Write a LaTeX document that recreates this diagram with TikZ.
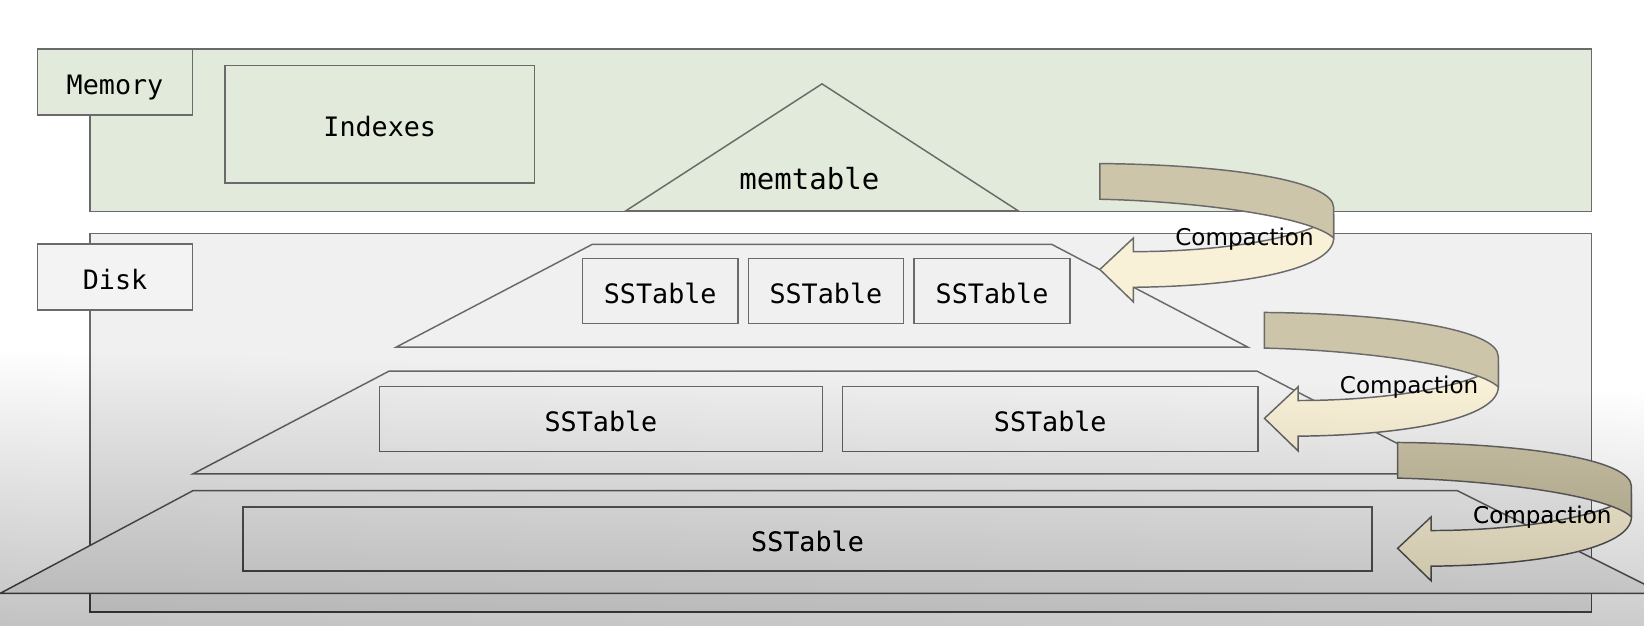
\documentclass[tikz,border=0pt]{standalone}
\usepackage{fontspec}
\setmonofont{DejaVu Sans Mono}
\newfontfamily\handfont{DejaVu Sans}
\definecolor{linec}{HTML}{6A6A6A}
\definecolor{memfill}{HTML}{E2EADB}
\definecolor{diskfill}{HTML}{F0F0F0}
\definecolor{labfill}{HTML}{F3F3F3}
\definecolor{darkband}{HTML}{CDC5AA}
\definecolor{lightband}{HTML}{F8F1D8}
\tikzset{
  outl/.style={draw=linec, line width=1.4pt, line join=miter},
  box/.style={outl, anchor=north west, inner sep=0pt,
    font=\ttfamily\fontsize{25.5}{30}\selectfont, text height=23.5pt, text depth=0pt},
  handtext/.style={anchor=base, inner sep=0pt, font=\handfont\fontsize{22}{26}\selectfont},
  compaction/.pic={
    \filldraw[outl, fill=lightband]
      (223,50) -- (223,71) .. controls (223,100) and (140,117) .. (32,118)
      -- (32,132) -- (0,101) -- (32,71) -- (32,84)
      .. controls (120,84) and (200,70) .. (223,50) -- cycle;
    \filldraw[outl, fill=darkband]
      (0,0) .. controls (121,1) and (223,16) .. (223,42) -- (223,71)
      .. controls (200,50) and (90,36) .. (0,34) -- cycle;
    \node[handtext] (-label) at (138,77.7) {Compaction};
  }
}
\begin{document}
\begin{tikzpicture}[x=1pt, y=-1pt]
\useasboundingbox (0,0) rectangle (1568,597);
\clip (0,0) rectangle (1568,597);
\fill[white] (0,0) rectangle (1568,597);

% Memory
\node[box, fill=memfill, minimum width=1432pt, minimum height=155pt] (mem) at (85,46) {};
\node[box, fill=memfill, minimum width=148pt, minimum height=63pt] (memlabel) at (35,46) {Memory};
\node[box, minimum width=295pt, minimum height=112pt] (indexes) at (214,62) {Indexes};
\draw[outl] (597,201) -- (784,80) -- (971,201) -- cycle;
\node[anchor=base, inner sep=0pt, font=\ttfamily\fontsize{27.7}{32}\selectfont] (memtable) at (772,181) {memtable};

% Disk
\node[box, fill=diskfill, minimum width=1432pt, minimum height=361pt] (disk) at (85,222) {};
\node[box, fill=labfill, minimum width=148pt, minimum height=63pt] (disklabel) at (35,232) {Disk};

\filldraw[outl, fill=diskfill] (565,233) -- (1003,233) -- (1190,331) -- (378,331) -- cycle;
\filldraw[outl, fill=diskfill] (371,354) -- (1199,354) -- (1389,452) -- (184,452) -- cycle;
\filldraw[outl, fill=diskfill] (184,468) -- (1390,468) -- (1586,566) -- (0,566) -- cycle;

\node[box, minimum width=148pt, minimum height=62pt] (ss1a) at (555,246) {SSTable};
\node[box, minimum width=148pt, minimum height=62pt] (ss1b) at (713,246) {SSTable};
\node[box, minimum width=149pt, minimum height=62pt] (ss1c) at (871,246) {SSTable};
\node[box, minimum width=423pt, minimum height=62pt] (ss2a) at (361,368) {SSTable};
\node[box, minimum width=396pt, minimum height=62pt] (ss2b) at (803,368) {SSTable};
\node[box, minimum width=1077pt, minimum height=61pt] (ss3) at (231,483) {SSTable};

% Compaction arrows
\pic (compA) at (1049,156) {compaction};
\pic (compB) at (1206,298) {compaction};
\pic (compC) at (1333,422) {compaction};

% darkening towards the bottom left (stacked translucent layers)
\foreach \k in {1,...,60}{
  \pgfmathsetmacro\tprev{1-0.26*(\k-1)/60}
  \pgfmathsetmacro\tcur{1-0.26*\k/60}
  \pgfmathsetmacro\alay{1-\tcur/\tprev}
  \pgfmathsetmacro\cy{334+263*(\k-1)/60}
  \fill[black, fill opacity=\alay] (0,\cy) -- (1568,\cy+40) -- (1568,640) -- (0,640) -- cycle;
}
\end{tikzpicture}
\end{document}
